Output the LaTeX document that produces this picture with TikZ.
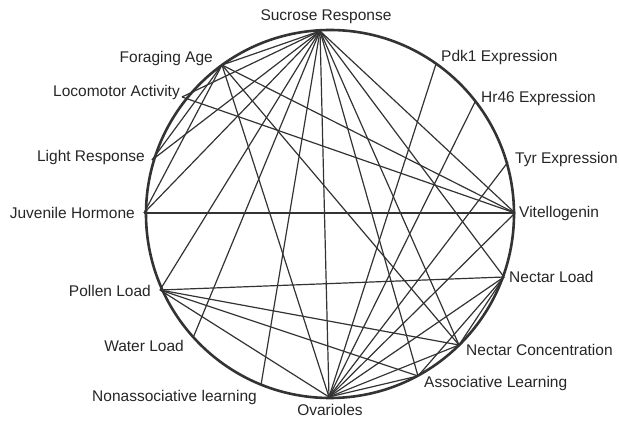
\documentclass[tikz,border=0pt]{standalone}
\usepackage{fontspec}
\setmainfont{Liberation Sans}
\begin{document}
\begin{tikzpicture}[x=1pt,y=-1pt,
  edge/.style={draw=black!80, line width=1.2pt},
  rim/.style={draw=black!80, line width=2.6pt},
  lbl/.style={font=\fontsize{15.5}{16}\selectfont, text=black!85, inner sep=0pt}]
\useasboundingbox (0,0) rectangle (619,422);
\draw[rim] (330,214) circle (184);
% points on the circle
\coordinate (S) at (320,31);
\coordinate (FA) at (222,65);
\coordinate (LA) at (182,97);
\coordinate (LR) at (152,160);
\coordinate (JH) at (144,213);
\coordinate (PD) at (436,64);
\coordinate (HR) at (475,102);
\coordinate (TY) at (508,162);
\coordinate (VI) at (515,213);
\coordinate (NL) at (504,277);
\coordinate (NC) at (459,345);
\coordinate (AL) at (418,376);
\coordinate (OV) at (329,397);
\coordinate (NA) at (261,385);
\coordinate (WL) at (193,338);
\coordinate (PL) at (160,290);
% labels
\node[lbl] (tS) at (326,17) {Sucrose Response};
\node[lbl, anchor=east] (tFA) at (213,58) {Foraging Age};
\node[lbl, anchor=east] (tLA) at (180,92) {Locomotor Activity};
\node[lbl, anchor=east] (tLR) at (145,157) {Light Response};
\node[lbl, anchor=east] (tJH) at (135,213) {Juvenile Hormone};
\node[lbl, anchor=west] (tPD) at (441,57) {Pdk1 Expression};
\node[lbl, anchor=west] (tHR) at (481,98) {Hr46 Expression};
\node[lbl, anchor=west] (tTY) at (515,159) {Tyr Expression};
\node[lbl, anchor=west] (tVI) at (519,213) {Vitellogenin};
\node[lbl, anchor=west] (tNL) at (509,277) {Nectar Load};
\node[lbl, anchor=west] (tNC) at (466,350) {Nectar Concentration};
\node[lbl, anchor=west] (tAL) at (424,383) {Associative Learning};
\node[lbl] (tOV) at (330,410) {Ovarioles};
\node[lbl, anchor=east] (tNA) at (257,397) {Nonassociative learning};
\node[lbl, anchor=east] (tWL) at (184,346) {Water Load};
\node[lbl, anchor=east] (tPL) at (151,291) {Pollen Load};
% edges
\foreach \t in {FA,LA,LR,JH,PL,WL,NA,OV,AL,NC,NL,VI}
  \draw[edge] (S) -- (\t);
\foreach \a/\b in {FA/VI,FA/OV,FA/NC,FA/JH,FA/LR,LA/VI,JH/VI,PD/OV,HR/OV,TY/OV,VI/OV,NL/OV,NC/OV,AL/OV,
  PL/NL,PL/NC,PL/AL,PL/OV,NL/AL,NL/NC}
  \draw[edge] (\a) -- (\b);
\end{tikzpicture}
\end{document}
